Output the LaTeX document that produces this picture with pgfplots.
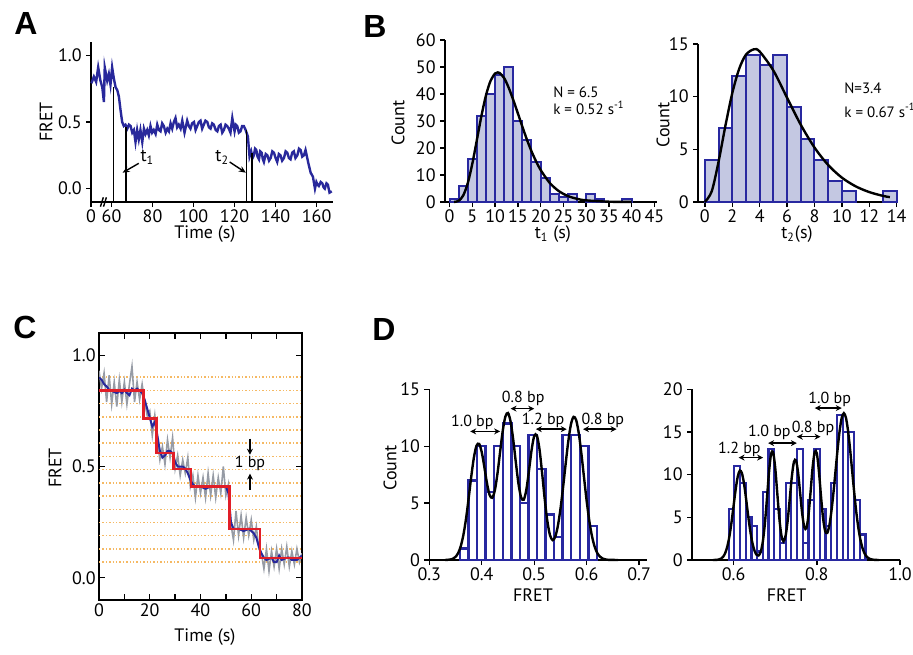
\documentclass[border=0pt]{standalone}
\usepackage{fontspec}
\setmainfont{PT Sans}
\newfontfamily\letterfont{Liberation Sans}
\usepackage{pgfplots}
\pgfplotsset{compat=1.18}
\usetikzlibrary{arrows.meta}
\definecolor{traceblue}{RGB}{40,40,155}
\definecolor{barblue}{RGB}{40,40,160}
\definecolor{barfill}{RGB}{196,200,226}
\definecolor{orangeline}{RGB}{245,185,100}
\definecolor{rawgray}{RGB}{150,155,165}
\definecolor{stepred}{RGB}{225,30,40}
\tikzset{
  onedec/.style={/pgf/number format/fixed, /pgf/number format/fixed zerofill, /pgf/number format/precision=1},
  ann/.style={font=\fontsize{8}{9}\selectfont, inner sep=0pt},
  dbl/.style={{Stealth[length=3pt,width=3pt]}-{Stealth[length=3pt,width=3pt]}, line width=0.7pt, black},
}
\pgfplotsset{
  base/.style={
    scale only axis,
    anchor=south west,
    ticklabel style={font=\fontsize{9}{10}\selectfont, inner sep=1.5pt},
    label style={font=\fontsize{9}{10}\selectfont, inner sep=0.5pt},
    /pgf/number format/assume math mode=true,
    axis line style={line width=0.8pt},
    tick style={line width=0.7pt, black},
    clip=false,
  },
  open/.style={base, axis lines*=left, tick align=outside, major tick length=2.5pt,
    xticklabel shift=-0.5pt, yticklabel shift=0.5pt},
}
\begin{document}
\begin{tikzpicture}
\useasboundingbox (0,0) rectangle (456.5pt,327pt);
% panel letters
\node[font=\letterfont\bfseries\fontsize{16}{16}\selectfont] at (13pt,315.5pt) {A};
\node[font=\letterfont\bfseries\fontsize{16}{16}\selectfont] at (187.5pt,314pt) {B};
\node[font=\letterfont\bfseries\fontsize{16}{16}\selectfont] at (12.5pt,163.5pt) {C};
\node[font=\letterfont\bfseries\fontsize{16}{16}\selectfont] at (192pt,162.5pt) {D};

% ---------------- Panel A
\begin{axis}[open, at={(45.5pt,226pt)}, width=121pt, height=80pt,
  xmin=50, xmax=168, ymin=-0.1, ymax=1.1,
  xtick={50,60,80,100,120,140,160}, xticklabels={0,60,80,100,120,140,160},
  ytick={0,0.5,1}, yticklabel style={onedec},
  xlabel={Time (s)}, ylabel={FRET},
  xlabel style={at={(axis description cs:0.471,-0.2)}, anchor=center},
  ylabel style={at={(axis description cs:-0.186,0.5)}, anchor=center}]
\addplot[traceblue, line width=1.2pt] coordinates {
(50.2,0.79)(51.4,0.84)(52.5,0.80)(53.5,0.91)(54.6,0.81)(55.5,0.76)(56.3,0.65)(56.7,0.91)(57.9,0.81)(58.7,0.86)(59.5,0.78)(60.3,0.91)(61.1,0.83)(62.0,0.76)(62.8,0.74)(63.6,0.69)(64.4,0.59)(65.2,0.50)(66.0,0.47)(66.8,0.48)(67.7,0.45)(68.5,0.48)(69.3,0.47)(70.1,0.42)(70.9,0.44)(71.7,0.35)(72.5,0.44)(73.3,0.37)(74.1,0.44)(75.0,0.35)(75.8,0.45)(76.6,0.41)(77.4,0.44)(78.2,0.40)(79.0,0.47)(79.8,0.42)(80.6,0.44)(81.5,0.41)(82.3,0.48)(83.1,0.44)(83.9,0.43)(84.7,0.49)(85.5,0.47)(86.4,0.42)(87.2,0.45)(88.0,0.43)(88.8,0.49)(89.6,0.45)(90.4,0.50)(91.2,0.53)(92.0,0.46)(92.8,0.48)(93.7,0.45)(94.5,0.51)(95.6,0.42)(96.9,0.51)(97.7,0.47)(98.5,0.45)(99.3,0.49)(100.2,0.50)(101.0,0.44)(101.8,0.47)(102.6,0.50)(103.4,0.51)(104.2,0.45)(105.0,0.48)(105.8,0.51)(106.7,0.50)(107.5,0.46)(108.3,0.45)(109.1,0.49)(109.9,0.48)(110.8,0.44)(111.6,0.43)(112.4,0.47)(113.2,0.48)(114.0,0.42)(114.8,0.44)(115.6,0.48)(116.4,0.47)(117.2,0.45)(118.0,0.42)(118.9,0.53)(120.0,0.43)(120.6,0.48)(121.3,0.47)(122.1,0.42)(122.9,0.43)(123.7,0.47)(124.5,0.47)(125.4,0.44)(126.5,0.39)(127.3,0.24)(128.1,0.28)(128.8,0.23)(129.4,0.25)(130.0,0.30)(130.6,0.29)(131.2,0.24)(131.9,0.22)(132.5,0.28)(133.2,0.27)(133.8,0.22)(134.3,0.20)(135.2,0.26)(136.0,0.25)(136.8,0.21)(137.6,0.23)(138.4,0.28)(139.2,0.27)(140.0,0.23)(140.8,0.20)(141.6,0.26)(142.4,0.25)(143.2,0.21)(144.1,0.23)(144.9,0.28)(145.7,0.27)(146.5,0.23)(147.3,0.22)(148.1,0.27)(148.9,0.28)(149.7,0.23)(150.6,0.25)(151.4,0.30)(152.2,0.29)(153.0,0.24)(153.8,0.25)(154.6,0.29)(155.3,0.24)(156.0,0.19)(157.1,0.12)(158.2,0.09)(159.2,0.00)(159.9,0.05)(160.5,0.03)(161.1,0.02)(162.0,0.05)(162.8,0.04)(163.4,0.01)(164.0,0.00)(164.8,0.04)(165.5,0.03)(166.3,-0.03)(167.4,-0.02)};
\addplot[black, line width=0.7pt] coordinates {(61.1,-0.1) (61.1,0.76)};
\addplot[black, line width=0.7pt] coordinates {(67.1,-0.1) (67.1,0.46)};
\addplot[black, line width=0.7pt] coordinates {(125.8,-0.1) (125.8,0.44)};
\addplot[black, line width=0.7pt] coordinates {(128.5,-0.1) (128.5,0.27)};
\draw[-{Stealth[length=3.5pt,width=3pt]}, line width=0.7pt] (axis cs:73.3,0.19) -- (axis cs:65.4,0.12);
\draw[-{Stealth[length=3.5pt,width=3pt]}, line width=0.7pt] (axis cs:117.6,0.20) -- (axis cs:125.5,0.12);
\node[ann, font=\fontsize{9}{10}\selectfont] at (axis cs:77.5,0.235) {t\textsubscript{1}};
\node[ann, font=\fontsize{9}{10}\selectfont] at (axis cs:114,0.235) {t\textsubscript{2}};
\draw[line width=0.7pt] (axis cs:54.6,-0.135) -- (axis cs:56.0,-0.065);
\draw[line width=0.7pt] (axis cs:56.1,-0.135) -- (axis cs:57.5,-0.065);
\end{axis}

% ---------------- Panel B left
\begin{axis}[open, at={(222.5pt,226pt)}, width=105.8pt, height=81pt,
  xmin=-1, xmax=45.5, ymin=0, ymax=60,
  xtick={0,5,...,45}, ytick={0,10,...,60},
  xlabel={t\textsubscript{1} (s)}, ylabel={Count},
  xlabel style={at={(axis description cs:0.51,-0.2)}, anchor=center},
  ylabel style={at={(axis description cs:-0.222,0.488)}, anchor=center}]
\addplot[ybar, bar width=2, bar shift=0pt, fill=barfill, draw=barblue, line width=1pt] coordinates {
(1,1)(3,6)(5,16)(7,32)(9,40)(11,47)(13,50)(15,30)(17,23)(19,15)(21,9)(23,3)(25,2)(27,3)(31,3)(33,1)(39,1)};
\addplot[black, line width=1.2pt, smooth] coordinates {
(1,0.02)(2,0.44)(3,2.41)(4,6.98)(5,14.16)(6,22.95)(7,31.86)(8,39.46)(9,44.85)(10,47.6)(10.6,48)(11,47.8)(12,45.9)(13,42.3)(14,37.8)(15,32.9)(16,27.9)(17,23.1)(18,18.8)(19,15.1)(20,11.9)(22,7.09)(24,4.05)(26,2.22)(28,1.18)(30,0.61)(35,0.11)(40,0.02)};
\node[ann, anchor=west, font=\fontsize{7.5}{9}\selectfont] at (axis cs:22.7,40.7) {N = 6.5};
\node[ann, anchor=west, font=\fontsize{7.5}{9}\selectfont] at (axis cs:22.7,34.8) {k = 0.52 s\textsuperscript{-1}};
\end{axis}

% ---------------- Panel B right
\begin{axis}[open, at={(349pt,226pt)}, width=99.35pt, height=79pt,
  xmin=-0.5, xmax=14, ymin=0, ymax=15,
  xtick={0,2,...,14}, ytick={0,5,10,15},
  xlabel={t\textsubscript{2}(s)}, ylabel={Count},
  xlabel style={at={(axis description cs:0.498,-0.205)}, anchor=center},
  ylabel style={at={(axis description cs:-0.176,0.487)}, anchor=center}]
\addplot[ybar, bar width=1, bar shift=0pt, fill=barfill, draw=barblue, line width=1pt] coordinates {
(0.5,4)(1.5,7)(2.5,12)(3.5,14)(4.5,13)(5.5,14)(6.5,9)(7.5,6)(8.5,4)(9.5,2)(10.5,1)(13.5,1)};
\addplot[black, line width=1.2pt, smooth] coordinates {
(0,0)(0.5,1.01)(1,3.83)(1.5,7.24)(2,10.33)(2.5,12.63)(3,13.99)(3.58,14.5)(4,14.28)(5,12.48)(6,9.89)(7,7.33)(8,5.17)(9,3.51)(10,2.31)(11,1.49)(12,0.94)(13,0.58)(13.5,0.46)};
\node[ann, anchor=west, font=\fontsize{7.5}{9}\selectfont] at (axis cs:10.15,10.8) {N=3.4};
\node[ann, anchor=west, font=\fontsize{7.5}{9}\selectfont] at (axis cs:10.15,8.7) {k = 0.67 s\textsuperscript{-1}};
\end{axis}

% ---------------- Panel C
\begin{axis}[base, at={(49.5pt,27pt)}, width=101.5pt, height=133.5pt,
  xmin=0, xmax=80, ymin=-0.1, ymax=1.1,
  xtick={0,20,40,60,80}, minor xtick={10,30,50,70}, ytick={0,0.5,1},
  yticklabel style={onedec}, axis line style={line width=1pt},
  major tick length=3pt, minor tick length=3pt, clip=true,
  xlabel={Time (s)}, ylabel={FRET},
  xlabel style={at={(axis description cs:0.522,-0.139)}, anchor=center},
  ylabel style={at={(axis description cs:-0.217,0.494)}, anchor=center}]
\pgfplotsinvokeforeach{0.070,0.129,0.189,0.248,0.308,0.367,0.426,0.486,0.545,0.605,0.664,0.723,0.783,0.842,0.902}{
  \addplot[orangeline, densely dotted, line width=0.7pt] coordinates {(0,#1) (80,#1)};
}
\addplot[rawgray, line width=0.8pt] coordinates {
(0,0.93)(1,0.85)(2,0.92)(3,0.79)(4,0.91)(5,0.78)(6,0.88)(7,0.77)(8,0.89)(9,0.79)(10,0.88)(11,0.78)(12,0.87)(13,0.95)(14,0.79)(15,0.88)(16,0.80)(17,0.87)(18,0.79)(19,0.73)(20,0.75)(21,0.64)(22,0.73)(23,0.62)(24,0.53)(25,0.59)(26,0.51)(27,0.62)(28,0.54)(29,0.63)(30,0.49)(31,0.55)(32,0.46)(33,0.53)(34,0.47)(35,0.54)(36,0.41)(37,0.46)(38,0.36)(39,0.46)(40,0.38)(41,0.45)(42,0.36)(43,0.47)(44,0.37)(45,0.46)(46,0.36)(47,0.45)(48,0.38)(49,0.50)(50,0.37)(51,0.42)(52,0.24)(53,0.17)(54,0.30)(55,0.19)(56,0.28)(57,0.18)(58,0.27)(59,0.19)(60,0.26)(61,0.17)(62,0.23)(63,0.13)(64,0.11)(65,0.04)(66,0.13)(67,0.03)(68,0.12)(69,0.05)(70,0.13)(71,0.04)(72,0.13)(73,0.06)(74,0.14)(75,0.05)(76,0.12)(77,0.06)(78,0.13)(79,0.07)(80,0.11)};
\addplot[traceblue, line width=1pt] coordinates {
(0,0.90)(1,0.89)(2,0.87)(3,0.86)(4,0.845)(5,0.84)(6,0.835)(7,0.83)(8,0.84)(9,0.83)(10,0.845)(11,0.83)(12,0.82)(13,0.85)(14,0.84)(15,0.85)(16,0.84)(17,0.83)(18,0.80)(19,0.76)(20,0.72)(21,0.68)(22,0.70)(23,0.64)(24,0.57)(25,0.54)(26,0.55)(27,0.57)(28,0.57)(29,0.56)(30,0.52)(31,0.50)(32,0.50)(33,0.50)(34,0.49)(35,0.47)(36,0.44)(37,0.42)(38,0.41)(40,0.41)(42,0.40)(44,0.41)(46,0.41)(48,0.41)(50,0.41)(51,0.38)(52,0.25)(53,0.22)(55,0.22)(57,0.21)(59,0.22)(60,0.21)(61,0.20)(62,0.18)(63,0.14)(64,0.11)(65,0.09)(66,0.08)(68,0.09)(69,0.07)(70,0.07)(71,0.10)(72,0.08)(74,0.09)(75,0.09)(76,0.08)(78,0.08)(80,0.10)};
\addplot[stepred, line width=1.2pt, const plot] coordinates {
(0,0.842)(17.5,0.715)(22.7,0.56)(29.3,0.49)(36.3,0.41)(51.5,0.22)(63.5,0.09)(80,0.09)};
\node[ann] at (axis cs:59.5,0.512) {1 bp};
\draw[-{Stealth[length=3pt,width=3pt]}, line width=0.6pt] (axis cs:59.5,0.625) -- (axis cs:59.5,0.553);
\draw[-{Stealth[length=3pt,width=3pt]}, line width=0.6pt] (axis cs:59.5,0.395) -- (axis cs:59.5,0.468);
\end{axis}

% ---------------- Panel D left
\begin{axis}[open, at={(214.65pt,47pt)}, width=108.85pt, height=85.35pt,
  xmin=0.3, xmax=0.715, ymin=0, ymax=15,
  xtick={0.3,0.4,...,0.71}, ytick={0,5,10,15}, xticklabel style={onedec},
  xlabel={FRET}, ylabel={Count},
  xlabel style={at={(axis description cs:0.476,-0.205)}, anchor=center},
  ylabel style={at={(axis description cs:-0.18,0.539)}, anchor=center}]
\addplot[ybar, bar width=0.0163, bar shift=0pt, fill=white, draw=barblue, line width=1.2pt] coordinates {
(0.3667,1)(0.3830,7)(0.3993,10)(0.4156,6)(0.4319,10)(0.4482,12)(0.4645,10)(0.4808,5)(0.4971,11)(0.5135,8)(0.5298,4)(0.5461,2)(0.5624,11)(0.5787,11)(0.5950,10)(0.6114,3)};
\addplot[black, line width=1.2pt, smooth] coordinates {
(0.330,0)(0.340,0.04)(0.345,0.11)(0.350,0.28)(0.355,0.61)(0.360,1.22)(0.365,2.21)(0.370,3.63)(0.375,5.42)(0.380,7.34)(0.385,9.01)(0.390,10.05)(0.395,10.2)(0.400,9.47)(0.405,8.15)(0.410,6.73)(0.415,5.71)(0.420,5.47)(0.425,6.14)(0.430,7.61)(0.435,9.52)(0.440,11.35)(0.445,12.6)(0.450,12.92)(0.455,12.15)(0.460,10.56)(0.465,8.56)(0.470,6.70)(0.475,5.50)(0.480,5.30)(0.485,6.18)(0.490,7.85)(0.495,9.67)(0.500,10.89)(0.505,10.95)(0.510,9.75)(0.515,7.66)(0.520,5.36)(0.525,3.43)(0.530,2.19)(0.535,1.75)(0.540,2.03)(0.545,2.98)(0.550,4.48)(0.555,6.39)(0.560,8.49)(0.565,10.45)(0.570,11.92)(0.575,12.58)(0.580,12.29)(0.585,11.12)(0.590,9.31)(0.595,7.22)(0.600,5.18)(0.605,3.44)(0.610,2.12)(0.615,1.20)(0.620,0.63)(0.625,0.31)(0.630,0.14)(0.635,0.06)(0.640,0.02)(0.660,0)};
\draw[dbl] (axis cs:0.378,11.3) -- (axis cs:0.435,11.3);
\node[ann] at (axis cs:0.382,12.1) {1.0 bp};
\draw[dbl] (axis cs:0.455,13.3) -- (axis cs:0.500,13.3);
\node[ann] at (axis cs:0.479,14.2) {0.8 bp};
\draw[dbl] (axis cs:0.503,11.5) -- (axis cs:0.562,11.5);
\node[ann] at (axis cs:0.517,12.3) {1.2 bp};
\draw[dbl] (axis cs:0.593,11.5) -- (axis cs:0.657,11.5);
\node[ann] at (axis cs:0.631,12.3) {0.8 bp};
\end{axis}

% ---------------- Panel D right
\begin{axis}[open, at={(346pt,47pt)}, width=104pt, height=85.35pt,
  xmin=0.5, xmax=1.0, ymin=0, ymax=20,
  xtick={0.6,0.8,1.0}, ytick={0,5,10,15,20}, xticklabel style={onedec},
  xlabel={FRET},
  xlabel style={at={(axis description cs:0.455,-0.205)}, anchor=center}]
\addplot[ybar, bar width=0.0137, bar shift=0pt, fill=white, draw=barblue, line width=1.1pt] coordinates {
(0.59485,6)(0.60855,11)(0.62225,9)(0.63595,5)(0.64965,4)(0.66335,1)(0.67705,8)(0.69075,13)(0.70445,6)(0.71815,2)(0.73185,9)(0.74555,9)(0.75925,13)(0.77295,2)(0.78665,7)(0.80035,13)(0.81405,6)(0.82775,4)(0.84145,9)(0.85515,17)(0.86885,15)(0.88255,15)(0.89625,7)(0.90995,3)};
\addplot[black, line width=1.2pt, smooth] coordinates {
(0.550,0)(0.560,0.02)(0.565,0.07)(0.570,0.17)(0.575,0.39)(0.580,0.84)(0.585,1.61)(0.590,2.80)(0.595,4.44)(0.600,6.37)(0.605,8.29)(0.610,9.79)(0.615,10.48)(0.620,10.17)(0.625,8.96)(0.630,7.16)(0.635,5.19)(0.640,3.41)(0.645,2.04)(0.650,1.12)(0.655,0.62)(0.660,0.53)(0.665,0.94)(0.670,2.08)(0.675,4.17)(0.680,7.12)(0.685,10.25)(0.690,12.41)(0.695,12.62)(0.700,10.81)(0.705,7.81)(0.710,4.86)(0.715,2.85)(0.720,2.18)(0.725,2.84)(0.730,4.63)(0.735,7.19)(0.740,9.77)(0.745,11.49)(0.750,11.67)(0.755,10.24)(0.760,7.82)(0.765,5.39)(0.770,3.84)(0.775,3.75)(0.780,5.26)(0.785,7.97)(0.790,10.88)(0.795,12.66)(0.800,12.50)(0.805,10.44)(0.810,7.51)(0.815,4.92)(0.820,3.41)(0.825,3.17)(0.830,4.01)(0.835,5.67)(0.840,7.89)(0.845,10.43)(0.850,12.98)(0.855,15.18)(0.860,16.67)(0.865,17.2)(0.870,16.67)(0.875,15.18)(0.880,12.98)(0.885,10.43)(0.890,7.87)(0.895,5.58)(0.900,3.72)(0.905,2.33)(0.910,1.37)(0.915,0.76)(0.920,0.39)(0.925,0.19)(0.930,0.09)(0.935,0.04)(0.940,0.015)(0.950,0)};
\draw[dbl] (axis cs:0.612,12.0) -- (axis cs:0.671,12.0);
\node[ann] at (axis cs:0.614,13.0) {1.2 bp};
\draw[dbl] (axis cs:0.683,13.7) -- (axis cs:0.752,13.7);
\node[ann] at (axis cs:0.686,15.0) {1.0 bp};
\draw[dbl] (axis cs:0.752,14.45) -- (axis cs:0.809,14.45);
\node[ann] at (axis cs:0.791,15.4) {0.8 bp};
\draw[dbl] (axis cs:0.795,17.8) -- (axis cs:0.860,17.8);
\node[ann] at (axis cs:0.831,18.8) {1.0 bp};
\end{axis}
\end{tikzpicture}
\end{document}
